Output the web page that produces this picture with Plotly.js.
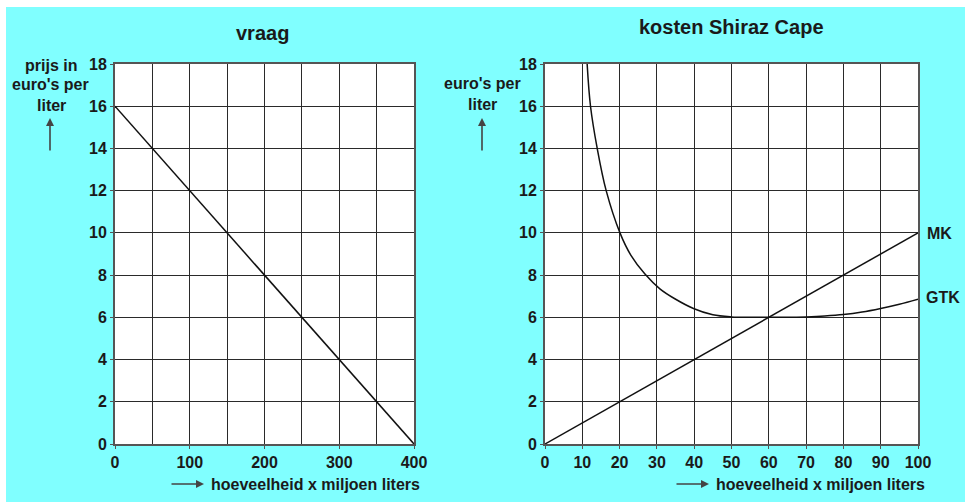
<!DOCTYPE html>
<html><head><meta charset="utf-8">
<script src="https://cdn.plot.ly/plotly-3.0.1.min.js"></script>
<style>html,body{margin:0;padding:0;background:#fff}#chart{width:965px;height:502px}</style>
</head><body><div id="chart"></div>
<script>
// Data
const demandQ = [0, 400];
const demandP = [16, 0];
const mkQ = [0, 100];
const mkP = [0, 10];
const gtkQ = [11.3, 12.2, 14, 16.4, 20.1, 23, 26.8, 30.8, 34.8, 39.8, 45, 50, 55, 60, 65, 70, 75, 80, 85, 90, 95, 100];
const gtkP = [18, 16, 14, 12, 10, 8.95, 8.05, 7.35, 6.88, 6.42, 6.12, 6.02, 6.0, 6.0, 6.0, 6.02, 6.06, 6.13, 6.25, 6.42, 6.62, 6.86];
const leftXTicks = [0, 100, 200, 300, 400];
const rightXTicks = [0, 10, 20, 30, 40, 50, 60, 70, 80, 90, 100];
const yTicks = [0, 2, 4, 6, 8, 10, 12, 14, 16, 18];

const W = 965, H = 502;
const px = x => x / W;
const py = y => 1 - y / H;
const FONT = 'Liberation Sans, Arial, sans-serif';
const INK = '#1a1a1a';
const GRID = '#2a2a2a';

const lineStyle = {color: '#111', width: 1.5};
const traces = [
  {x: demandQ, y: demandP, type: 'scatter', mode: 'lines', line: lineStyle, xaxis: 'x', yaxis: 'y', cliponaxis: false, hoverinfo: 'skip'},
  {x: mkQ, y: mkP, type: 'scatter', mode: 'lines', line: lineStyle, xaxis: 'x2', yaxis: 'y2', cliponaxis: false, hoverinfo: 'skip'},
  {x: gtkQ, y: gtkP, type: 'scatter', mode: 'lines', line: Object.assign({shape: 'spline', smoothing: 1}, lineStyle), xaxis: 'x2', yaxis: 'y2', cliponaxis: false, hoverinfo: 'skip'}
];

const tickFont = {family: FONT, size: 16, color: INK, weight: 'bold'};
const axisCommon = {
  showgrid: true, gridcolor: GRID, gridwidth: 1, zeroline: false,
  showline: true, linecolor: '#555', linewidth: 2, mirror: true,
  ticks: 'outside', ticklen: 3, tickcolor: '#555', tickfont: tickFont, fixedrange: true
};
const yDomain = [py(444), py(64)];

const layout = {
  width: W, height: H,
  margin: {l: 0, r: 0, t: 0, b: 0},
  paper_bgcolor: '#80FFFF',
  plot_bgcolor: '#FFFFFF',
  showlegend: false,
  xaxis: Object.assign({}, axisCommon, {domain: [px(115), px(414)], range: [0, 400], tickmode: 'array', tickvals: leftXTicks,
    minor: {dtick: 50, tick0: 0, showgrid: true, gridcolor: GRID, gridwidth: 1, ticks: ''}, anchor: 'y'}),
  yaxis: Object.assign({}, axisCommon, {domain: yDomain, range: [0, 18], tickmode: 'array', tickvals: yTicks, anchor: 'x'}),
  xaxis2: Object.assign({}, axisCommon, {domain: [px(545), px(918)], range: [0, 100], tickmode: 'array', tickvals: rightXTicks, anchor: 'y2'}),
  yaxis2: Object.assign({}, axisCommon, {domain: yDomain, range: [0, 18], tickmode: 'array', tickvals: yTicks, anchor: 'x2'}),
  shapes: [
    {type: 'rect', xref: 'paper', yref: 'paper', x0: 0, x1: 1, y0: py(7), y1: 1, fillcolor: '#fff', line: {width: 0}, layer: 'below'},
    {type: 'rect', xref: 'paper', yref: 'paper', x0: 0, x1: px(6), y0: 0, y1: 1, fillcolor: '#fff', line: {width: 0}, layer: 'below'}
  ],
  annotations: []
};

function txt(text, x, y, size, xanchor) {
  layout.annotations.push({text: text, xref: 'paper', yref: 'paper', x: px(x), y: py(y),
    xanchor: xanchor || 'center', yanchor: 'middle', showarrow: false,
    font: {family: FONT, size: size, color: INK, weight: 'bold'}});
}
function arrow(x, y, ax, ay) {
  layout.annotations.push({text: '', xref: 'paper', yref: 'paper', x: px(x), y: py(y),
    showarrow: true, ax: ax, ay: ay, arrowhead: 2, arrowsize: 1, arrowwidth: 1.6, arrowcolor: '#444'});
}

// Titles
txt('vraag', 262, 33, 20);
txt('kosten Shiraz Cape', 731, 27, 20);
// Y-axis titles
txt('prijs in', 51, 65, 16);
txt("euro's per", 50, 85, 16);
txt('liter', 51, 105, 16);
arrow(50, 118, 0, 34);
txt("euro's per", 482, 84, 16);
txt('liter', 482, 104, 16);
arrow(482, 118, 0, 34);
// X-axis titles
arrow(204, 484, -34, 0);
txt('hoeveelheid x miljoen liters', 209, 484, 16, 'left');
arrow(709, 484, -34, 0);
txt('hoeveelheid x miljoen liters', 714, 484, 16, 'left');
// Curve labels
txt('MK', 925, 233, 16, 'left');
txt('GTK', 924, 297, 16, 'left');

Plotly.newPlot('chart', traces, layout, {displayModeBar: false, staticPlot: true});
</script>
</body></html>
